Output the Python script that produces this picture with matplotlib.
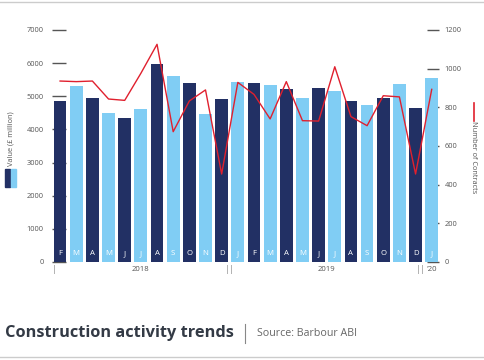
import matplotlib
matplotlib.use("Agg")
import matplotlib.pyplot as plt
from matplotlib.lines import Line2D
from matplotlib.patches import Rectangle

plt.rcParams['font.family'] = ['Open Sans', 'DejaVu Sans']

months = ["F", "M", "A", "M", "J", "J", "A", "S", "O", "N", "D",
          "J", "F", "M", "A", "M", "J", "J", "A", "S", "O", "N", "D", "J"]
values = [4870, 5300, 4940, 4500, 4350, 4630, 5980, 5600, 5400, 4480, 4930,
          5420, 5400, 5330, 5220, 4960, 5250, 5150, 4850, 4740, 4940, 5380, 4660, 5540]
contracts = [936, 933, 936, 843, 836, 976, 1126, 674, 833, 890, 455,
             929, 867, 740, 933, 731, 729, 1010, 752, 705, 860, 854, 455, 893]
years = ["2018", "2019", "'20"]
year_pos = [5, 16.5, 23]
left_ticks = [0, 1000, 2000, 3000, 4000, 5000, 6000, 7000]
right_ticks = [0, 200, 400, 600, 800, 1000, 1200]

dark = "#223064"
light = "#80cdf4"
red = "#e0202e"
grey = "#555555"

fig = plt.figure(figsize=(4.85, 3.6), dpi=100)
rect = [52/485, (360-262)/360, (439-52)/485, (262-30)/360]
xlim = (-0.5, 23.45)

# right axis ticks (bottom layer)
axR = fig.add_axes(rect, zorder=0)
axR.set_xlim(*xlim)
axR.set_ylim(0, 1200)
axR.yaxis.tick_right()
axR.set_yticks(right_ticks)
axR.tick_params(axis='y', direction='in', length=9, width=1, color="#555555",
                labelsize=5.4, labelcolor=grey, pad=4)
axR.set_xticks([])
for s in axR.spines.values():
    s.set_visible(False)
axR.patch.set_visible(False)

# bars
ax = fig.add_axes(rect, zorder=1)
ax.patch.set_visible(False)
ax.set_axisbelow(True)
x = list(range(len(values)))
cols = [dark if i % 2 == 0 else light for i in x]
ax.bar(x, values, width=0.79, color=cols, linewidth=0, zorder=2)
ax.set_xlim(*xlim)
ax.set_ylim(0, 7000)
ax.set_yticks(left_ticks)
ax.tick_params(axis='y', direction='in', length=10, width=1, color="#555555",
               labelsize=5.4, labelcolor=grey, pad=6)
ax.set_xticks([])
for s in ax.spines.values():
    s.set_visible(False)
for i, m in enumerate(months):
    ax.text(i, 150, m, color="white", ha="center", va="bottom", fontsize=5.6, zorder=3)
for yp, yl in zip(year_pos, years):
    ax.text(yp, -110, yl, color=grey, ha="center", va="top", fontsize=5.6, clip_on=False)
ax.text(-0.37, -80, "|", color="#888888", ha="center", va="top", fontsize=6.5, clip_on=False)
ax.text(10.5, -80, "||", color="#888888", ha="center", va="top", fontsize=6.5, clip_on=False)
ax.text(22.35, -80, "||", color="#888888", ha="center", va="top", fontsize=6.5, clip_on=False)

# line
axL = fig.add_axes(rect, zorder=2)
axL.patch.set_visible(False)
axL.plot(x, contracts, color=red, lw=1.0)
axL.set_xlim(*xlim)
axL.set_ylim(0, 1200)
axL.axis('off')

# axis labels
fig.text(11/485, 1 - 139/360, "Value (£ million)", rotation=90, ha="center", va="center",
         fontsize=5.3, color=grey)
fig.add_artist(Rectangle((5/485, 1 - 187/360), 5/485, 18/360, color=dark, transform=fig.transFigure))
fig.add_artist(Rectangle((11/485, 1 - 187/360), 5/485, 18/360, color=light, transform=fig.transFigure))
fig.text(474/485, 1 - 157/360, "Number of Contracts", rotation=270, ha="center", va="center",
         fontsize=5.3, color=grey)
fig.add_artist(Line2D([474/485, 474/485], [1 - 103/360, 1 - 121/360], color=red, lw=1.2,
                      transform=fig.transFigure))

# title
fig.text(5/485, 1 - 333/360, "Construction activity trends", fontsize=11.8, fontweight="bold",
         color="#333a45", ha="left", va="center")
fig.add_artist(Line2D([245/485, 245/485], [1 - 324/360, 1 - 343/360], color="#888888", lw=0.8,
                      transform=fig.transFigure))
fig.text(257/485, 1 - 334/360, "Source: Barbour ABI", fontsize=7.7, color="#666666",
         ha="left", va="center")
fig.add_artist(Line2D([0, 1], [1 - 1.5/360, 1 - 1.5/360], color="#cccccc", lw=1.0,
                      transform=fig.transFigure))
fig.add_artist(Line2D([0, 1], [1 - 357/360, 1 - 357/360], color="#cccccc", lw=1.0,
                      transform=fig.transFigure))

fig.savefig("out.png", dpi=100)
